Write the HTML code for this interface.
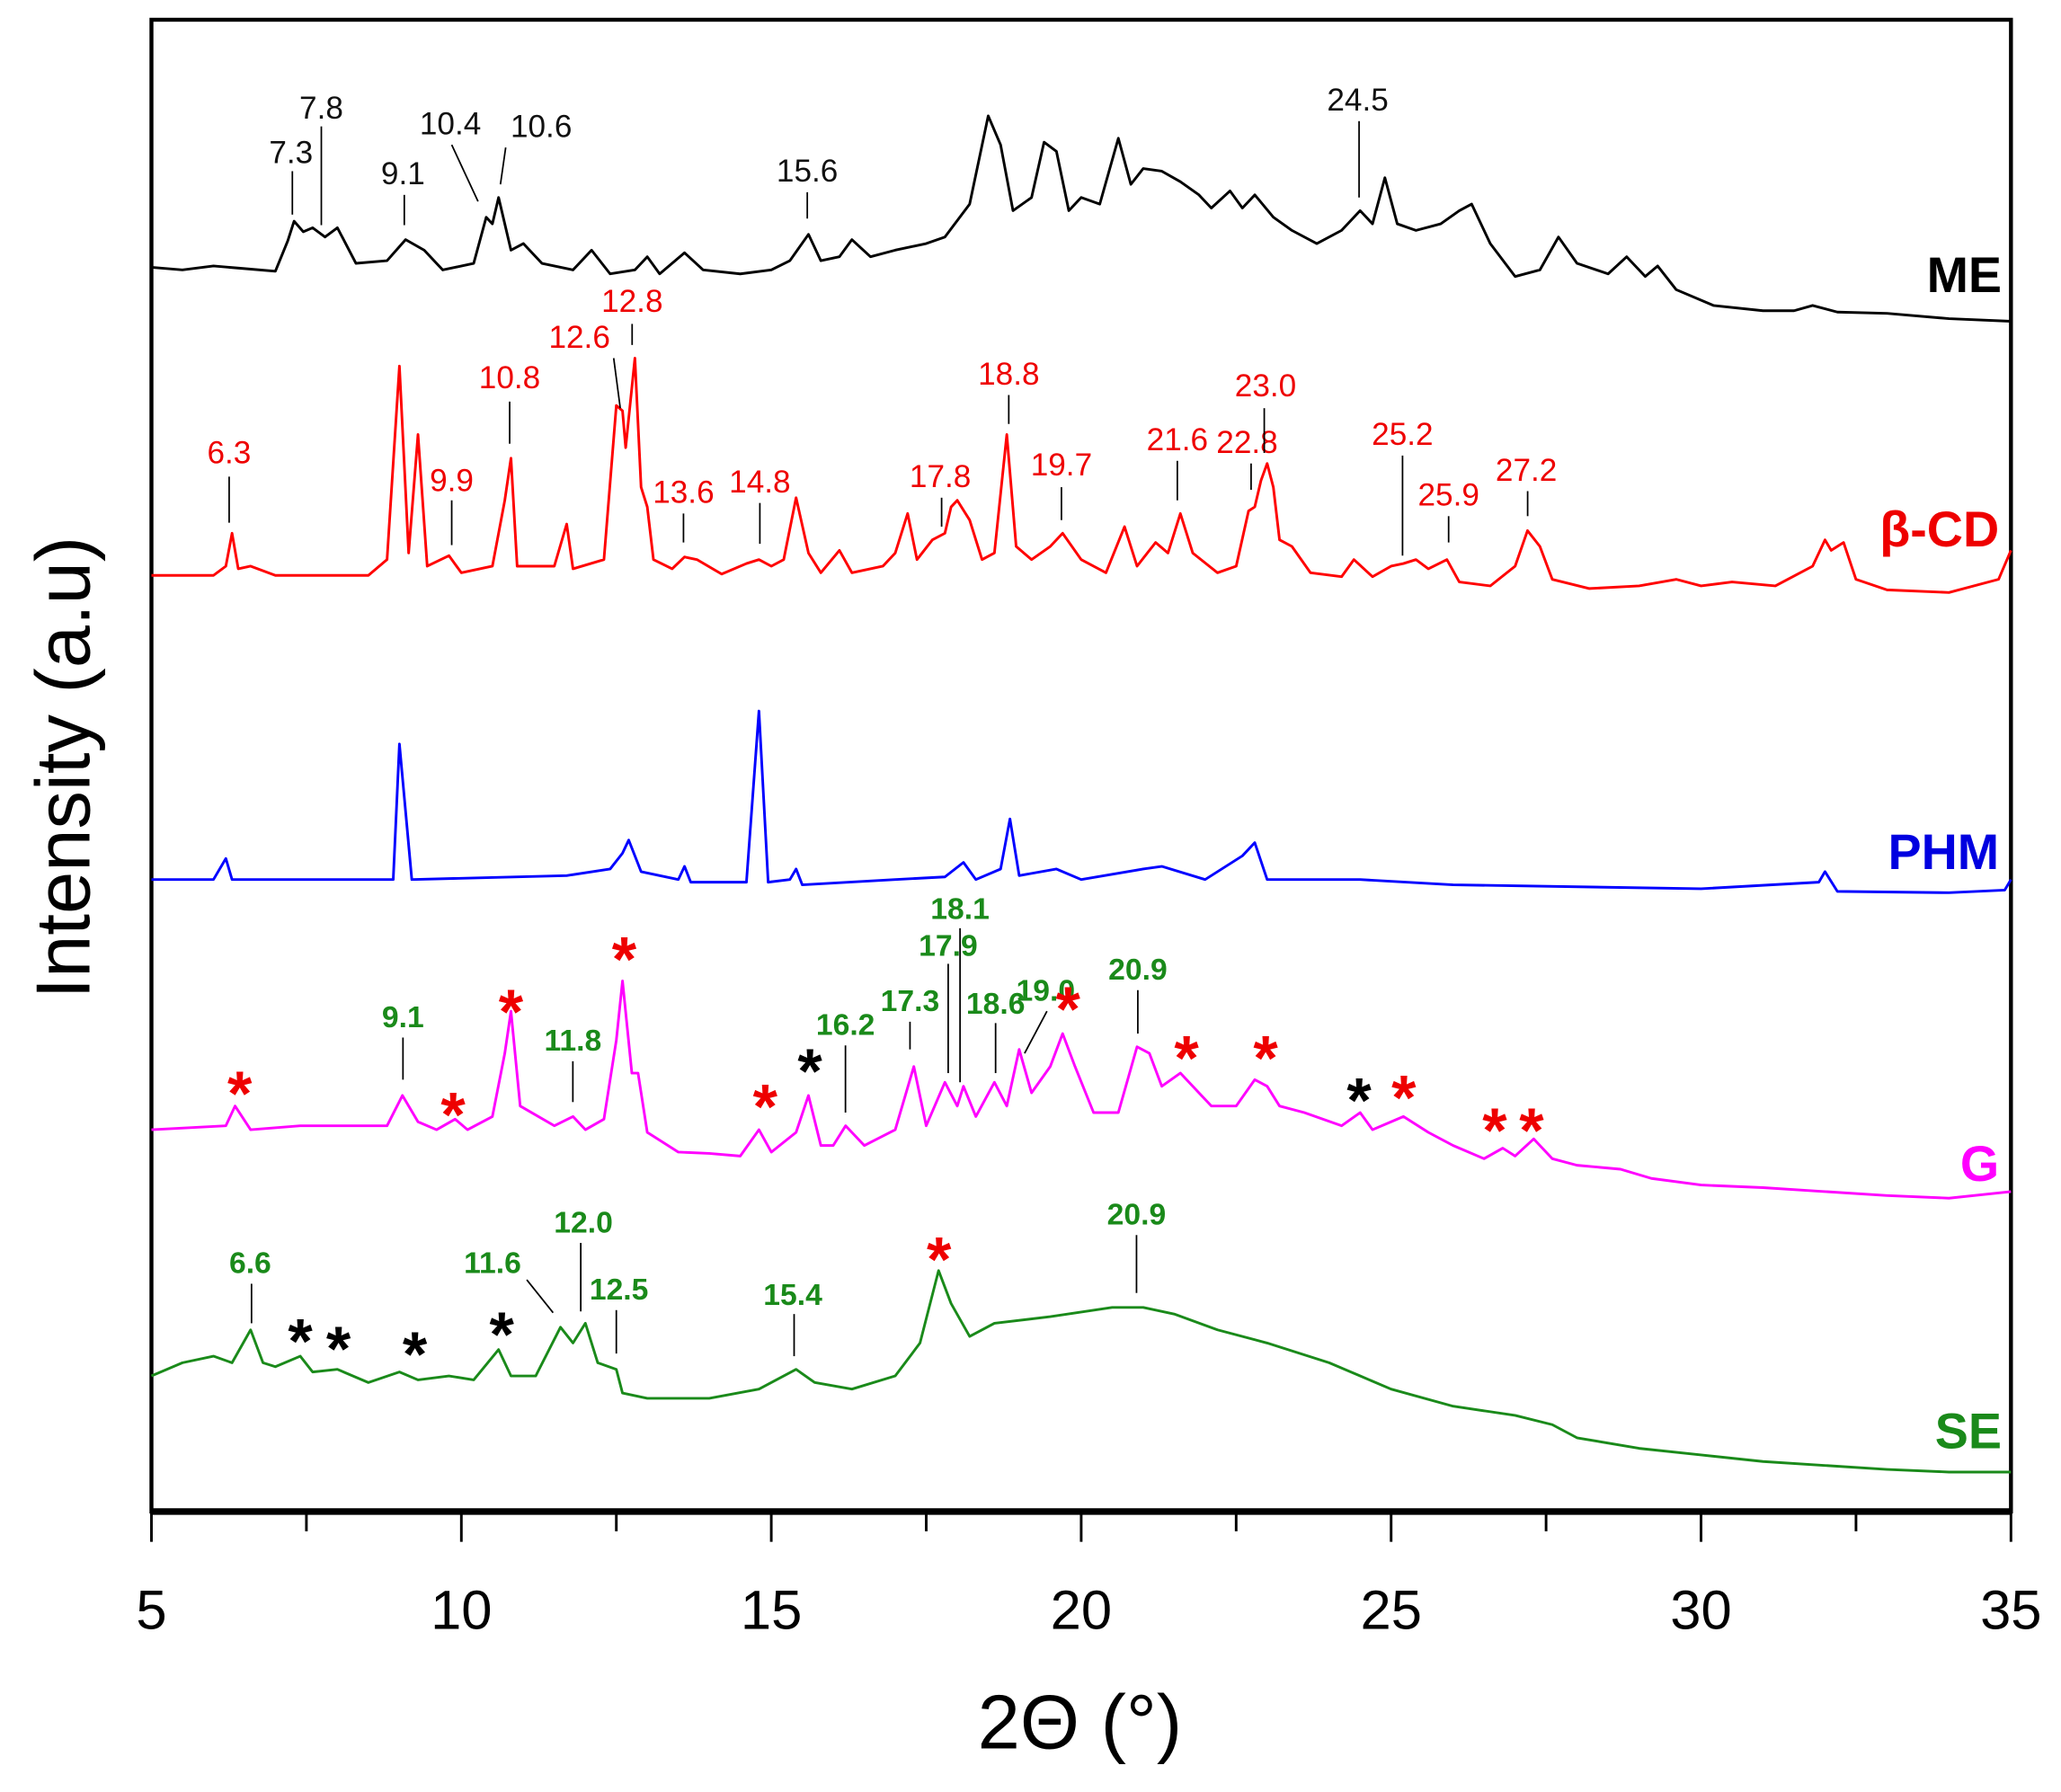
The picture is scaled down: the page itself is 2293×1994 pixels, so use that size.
<!DOCTYPE html>
<html><head><meta charset="utf-8"><style>
html,body{margin:0;padding:0;background:#fff;}
svg{display:block;font-family:"Liberation Sans",Arial,sans-serif;}
.lb{font-size:24px;}
.gb{font-size:23px;font-weight:bold;fill:#1a8a1a;}
.st{font-size:48px;font-weight:bold;}
.ld{stroke:#000;stroke-width:1.2;}
</style></head><body>
<svg id="chart" width="2293" height="1994" viewBox="0 0 1565 1361" preserveAspectRatio="none">
<rect x="115" y="15" width="1412" height="1133" fill="none" stroke="#000" stroke-width="3"/>
<line x1="115" y1="1148" x2="1527" y2="1148" stroke="#000" stroke-width="5"/>
<g id="ticks"></g>
<g id="series"></g>
<text transform="translate(68,583) rotate(-90)" text-anchor="middle" font-size="58">Intensity (a.u)</text>
<text x="820" y="1328" text-anchor="middle" font-size="58">2Θ (°)</text>
<g font-weight="bold" font-size="38" text-anchor="end">
<text x="1520" y="222" fill="#000">ME</text>
<text x="1518" y="415" fill="#e00">β-CD</text>
<text x="1518" y="660" fill="#0000e0">PHM</text>
<text x="1518" y="897" fill="#f0f">G</text>
<text x="1520" y="1100" fill="#1a8a1a">SE</text>
</g>
<g class="lb" text-anchor="middle" fill="#111">
<text x="221" y="124">7.3</text><line class="ld" x1="222" y1="130" x2="222" y2="163"/>
<text x="244" y="90">7.8</text><line class="ld" x1="244" y1="96" x2="244" y2="171"/>
<text x="306" y="140">9.1</text><line class="ld" x1="307" y1="148" x2="307" y2="171"/>
<text x="342" y="102">10.4</text><line class="ld" x1="343" y1="110" x2="363" y2="153"/>
<text x="411" y="104">10.6</text><line class="ld" x1="384" y1="112" x2="380" y2="140"/>
<text x="613" y="138">15.6</text><line class="ld" x1="613" y1="146" x2="613" y2="166"/>
<text x="1031" y="84">24.5</text><line class="ld" x1="1032" y1="92" x2="1032" y2="150"/>
</g>
<g class="lb" text-anchor="middle" fill="#e00">
<text x="174" y="352">6.3</text><line class="ld" x1="174" y1="362" x2="174" y2="397"/>
<text x="343" y="373">9.9</text><line class="ld" x1="343" y1="380" x2="343" y2="414"/>
<text x="387" y="295">10.8</text><line class="ld" x1="387" y1="305" x2="387" y2="337"/>
<text x="440" y="264">12.6</text><line class="ld" x1="466" y1="272" x2="471" y2="310"/>
<text x="480" y="237">12.8</text><line class="ld" x1="480" y1="246" x2="480" y2="262"/>
<text x="519" y="382">13.6</text><line class="ld" x1="519" y1="390" x2="519" y2="412"/>
<text x="577" y="374">14.8</text><line class="ld" x1="577" y1="382" x2="577" y2="413"/>
<text x="714" y="370">17.8</text><line class="ld" x1="715" y1="378" x2="715" y2="400"/>
<text x="766" y="292">18.8</text><line class="ld" x1="766" y1="300" x2="766" y2="322"/>
<text x="806" y="361">19.7</text><line class="ld" x1="806" y1="370" x2="806" y2="395"/>
<text x="894" y="342">21.6</text><line class="ld" x1="894" y1="350" x2="894" y2="380"/>
<text x="947" y="344">22.8</text><line class="ld" x1="950" y1="352" x2="950" y2="372"/>
<text x="961" y="301">23.0</text><line class="ld" x1="960" y1="310" x2="960" y2="344"/>
<text x="1065" y="338">25.2</text><line class="ld" x1="1065" y1="346" x2="1065" y2="422"/>
<text x="1100" y="384">25.9</text><line class="ld" x1="1100" y1="392" x2="1100" y2="412"/>
<text x="1159" y="365">27.2</text><line class="ld" x1="1160" y1="373" x2="1160" y2="392"/>
</g>
<g text-anchor="middle">
<text class="gb" x="306" y="780">9.1</text><line class="ld" x1="306" y1="788" x2="306" y2="820"/>
<text class="gb" x="435" y="798">11.8</text><line class="ld" x1="435" y1="806" x2="435" y2="837"/>
<text class="gb" x="642" y="786">16.2</text><line class="ld" x1="642" y1="794" x2="642" y2="845"/>
<text class="gb" x="691" y="768">17.3</text><line class="ld" x1="691" y1="776" x2="691" y2="797"/>
<text class="gb" x="720" y="726">17.9</text><line class="ld" x1="720" y1="732" x2="720" y2="815"/>
<text class="gb" x="729" y="698">18.1</text><line class="ld" x1="729" y1="705" x2="729" y2="822"/>
<text class="gb" x="756" y="770">18.6</text><line class="ld" x1="756" y1="777" x2="756" y2="815"/>
<text class="gb" x="794" y="760">19.0</text><line class="ld" x1="795" y1="768" x2="778" y2="800"/>
<text class="gb" x="864" y="744">20.9</text><line class="ld" x1="864" y1="752" x2="864" y2="785"/>
</g>
<g text-anchor="middle">
<text class="gb" x="190" y="967">6.6</text><line class="ld" x1="191" y1="975" x2="191" y2="1005"/>
<text class="gb" x="374" y="967">11.6</text><line class="ld" x1="400" y1="972" x2="420" y2="997"/>
<text class="gb" x="443" y="936">12.0</text><line class="ld" x1="441" y1="944" x2="441" y2="996"/>
<text class="gb" x="470" y="987">12.5</text><line class="ld" x1="468" y1="995" x2="468" y2="1028"/>
<text class="gb" x="602" y="991">15.4</text><line class="ld" x1="603" y1="998" x2="603" y2="1030"/>
<text class="gb" x="863" y="930">20.9</text><line class="ld" x1="863" y1="938" x2="863" y2="982"/>
</g>
<g class="st" text-anchor="middle">
<text x="182" y="847" fill="#e00">*</text><text x="344" y="863" fill="#e00">*</text><text x="388" y="785" fill="#e00">*</text>
<text x="474" y="745" fill="#e00">*</text><text x="581" y="857" fill="#e00">*</text><text x="615" y="830" fill="#000">*</text>
<text x="811" y="783" fill="#e00">*</text><text x="901" y="820" fill="#e00">*</text><text x="961" y="820" fill="#e00">*</text>
<text x="1032" y="852" fill="#000">*</text><text x="1066" y="850" fill="#e00">*</text><text x="1135" y="875" fill="#e00">*</text>
<text x="1163" y="875" fill="#e00">*</text>
<text x="713" y="973" fill="#e00">*</text><text x="228" y="1035" fill="#000">*</text><text x="257" y="1041" fill="#000">*</text>
<text x="315" y="1045" fill="#000">*</text><text x="381" y="1030" fill="#000">*</text>
</g>
</svg>
<script>
const xTicks=[5,10,15,20,25,30,35];
const meX=[5,5.5,6,6.5,7,7.2,7.3,7.45,7.6,7.8,8,8.3,8.8,9.1,9.4,9.7,10.2,10.4,10.5,10.6,10.8,11,11.3,11.8,12.1,12.4,12.8,13,13.2,13.6,13.9,14.5,15,15.3,15.6,15.8,16.1,16.3,16.6,17,17.5,17.8,18.2,18.5,18.7,18.9,19.2,19.4,19.6,19.8,20,20.3,20.6,20.8,21,21.3,21.6,21.9,22.1,22.4,22.6,22.8,23.1,23.4,23.8,24.2,24.5,24.7,24.9,25.1,25.4,25.8,26.1,26.3,26.6,27,27.4,27.7,28,28.5,28.8,29.1,29.3,29.6,30.2,31,31.5,31.8,32.2,33,34,35];
const meY=[945,943,946,944,942,965,980,972,975,968,975,948,950,966,958,943,948,983,978,998,958,963,948,943,958,940,943,953,940,956,943,940,943,950,970,950,953,966,953,958,963,968,993,1060,1038,988,998,1040,1033,988,998,993,1043,1008,1020,1018,1010,1000,990,1003,990,1000,983,973,963,973,988,978,1013,978,973,978,988,993,963,938,943,968,948,940,953,938,946,928,916,912,912,916,911,910,906,904];
const cdX=[5,6,6.2,6.3,6.4,6.6,7,8.5,8.8,9,9.15,9.3,9.45,9.8,10,10.5,10.7,10.8,10.9,11.5,11.7,11.8,12.3,12.5,12.6,12.65,12.8,12.9,13,13.1,13.4,13.6,13.8,14.2,14.6,14.8,15,15.2,15.4,15.6,15.8,16.1,16.3,16.8,17,17.2,17.35,17.6,17.8,17.9,18,18.2,18.4,18.6,18.8,18.95,19.2,19.5,19.7,20,20.4,20.7,20.9,21.2,21.4,21.6,21.8,22.2,22.5,22.7,22.8,22.9,23,23.1,23.2,23.4,23.7,24.2,24.4,24.7,25,25.2,25.4,25.6,25.9,26.1,26.6,27,27.2,27.4,27.6,28.2,29,29.6,30,30.5,31.2,31.8,32,32.1,32.3,32.5,33,34,34.8,35];
const cdY=[711,711,718,743,716,718,711,711,723,870,728,818,718,726,713,718,768,800,718,718,750,716,723,840,836,808,876,778,763,723,716,725,723,712,720,723,718,723,770,728,713,730,713,718,728,758,723,738,743,763,768,753,723,728,818,733,723,733,743,723,713,748,718,736,728,758,728,713,718,760,763,783,796,778,738,733,713,710,723,710,718,720,723,716,723,706,703,718,745,733,708,701,703,708,703,706,703,718,738,730,736,708,700,698,708,730];
const phX=[5,6,6.2,6.3,8.9,9,9.2,11.7,12.4,12.6,12.7,12.9,13.5,13.6,13.7,14.6,14.8,14.95,15.3,15.4,15.5,17,17.8,18.1,18.3,18.7,18.85,19,19.6,20,21,21.3,22,22.6,22.8,23,24.5,26,30,31.9,32,32.2,34,34.9,35];
const phY=[480,480,496,480,480,583,480,483,488,500,510,486,480,490,478,478,608,478,480,488,476,480,482,493,480,488,526,483,488,480,488,490,480,498,508,480,480,476,473,478,486,471,470,472,480];
const gX=[5,6.2,6.35,6.6,7.4,8.8,9.05,9.3,9.6,9.9,10.1,10.5,10.7,10.8,10.95,11.5,11.8,12,12.3,12.5,12.6,12.75,12.85,13,13.5,14,14.5,14.8,15,15.4,15.6,15.8,16,16.2,16.5,17,17.3,17.5,17.8,18,18.1,18.3,18.6,18.8,19,19.2,19.5,19.7,19.9,20.2,20.6,20.9,21.1,21.3,21.6,21.9,22.1,22.5,22.8,23,23.2,23.6,24.2,24.5,24.7,25,25.2,25.6,26,26.5,26.8,27,27.3,27.6,28,28.7,29.2,30,31,32,33,34,35];
const gY=[290,293,308,290,293,293,316,296,290,298,290,300,348,380,308,293,300,290,298,358,403,333,333,288,273,272,270,290,273,288,316,278,278,293,278,290,338,293,326,308,323,300,326,308,351,318,338,363,338,303,303,353,348,323,333,318,308,308,328,323,308,303,293,303,290,296,300,288,278,268,276,270,283,268,263,260,253,248,246,243,240,238,243];
const seX=[5,5.5,6,6.3,6.6,6.8,7,7.4,7.6,8,8.5,9,9.3,9.8,10.2,10.6,10.8,11.2,11.6,11.8,12,12.2,12.5,12.6,13,14,14.8,15.4,15.7,16.3,17,17.4,17.7,17.9,18.2,18.6,19.5,20.5,21,21.5,22.2,23,24,24.5,25,26,27,27.6,28,29,30,31,32,33,34,35];
const seY=[103,113,118,113,138,113,110,118,106,108,98,106,100,103,100,123,103,103,140,128,143,113,108,90,86,86,93,108,98,93,103,128,183,158,133,143,148,155,155,150,138,128,113,103,93,80,73,66,56,48,43,38,35,32,30,30];
const L=115,R=1527,B=1148;
function sx(v){return L+(v-5)/30*(R-L);}
function sy(v){return B-v;}
const svg=document.getElementById('chart'),NS='http://www.w3.org/2000/svg';
const tg=document.getElementById('ticks');
for(let t=5;t<=35;t+=2.5){
  const ln=document.createElementNS(NS,'line');
  const major=xTicks.includes(t);
  ln.setAttribute('x1',sx(t));ln.setAttribute('x2',sx(t));
  ln.setAttribute('y1',B);ln.setAttribute('y2',B+(major?23:15));
  ln.setAttribute('stroke','#000');ln.setAttribute('stroke-width','2');
  
  
  tg.appendChild(ln);
}
xTicks.forEach(t=>{
  const tx=document.createElementNS(NS,'text');
  tx.setAttribute('x',sx(t));tx.setAttribute('y',B+89);
  tx.setAttribute('text-anchor','middle');tx.setAttribute('font-size','42');
  tx.textContent=t;
  
  
  svg.appendChild(tx);
});
const sg=document.getElementById('series');
function draw(xs,ys,col,name){
  const p=document.createElementNS(NS,'path');
  p.setAttribute('d',xs.map((x,i)=>(i?'L':'M')+sx(x).toFixed(1)+','+sy(ys[i]).toFixed(1)).join(''));
  p.setAttribute('fill','none');p.setAttribute('stroke',col);p.setAttribute('stroke-width','2');
  p.setAttribute('stroke-linejoin','round');
  
  
  sg.appendChild(p);
}
draw(meX,meY,'#000','series-me');
draw(cdX,cdY,'#f00','series-beta-cd');
draw(phX,phY,'#00f','series-phm');
draw(gX,gY,'#f0f','series-g');
draw(seX,seY,'#1a8a1a','series-se');
</script>
</body></html>
